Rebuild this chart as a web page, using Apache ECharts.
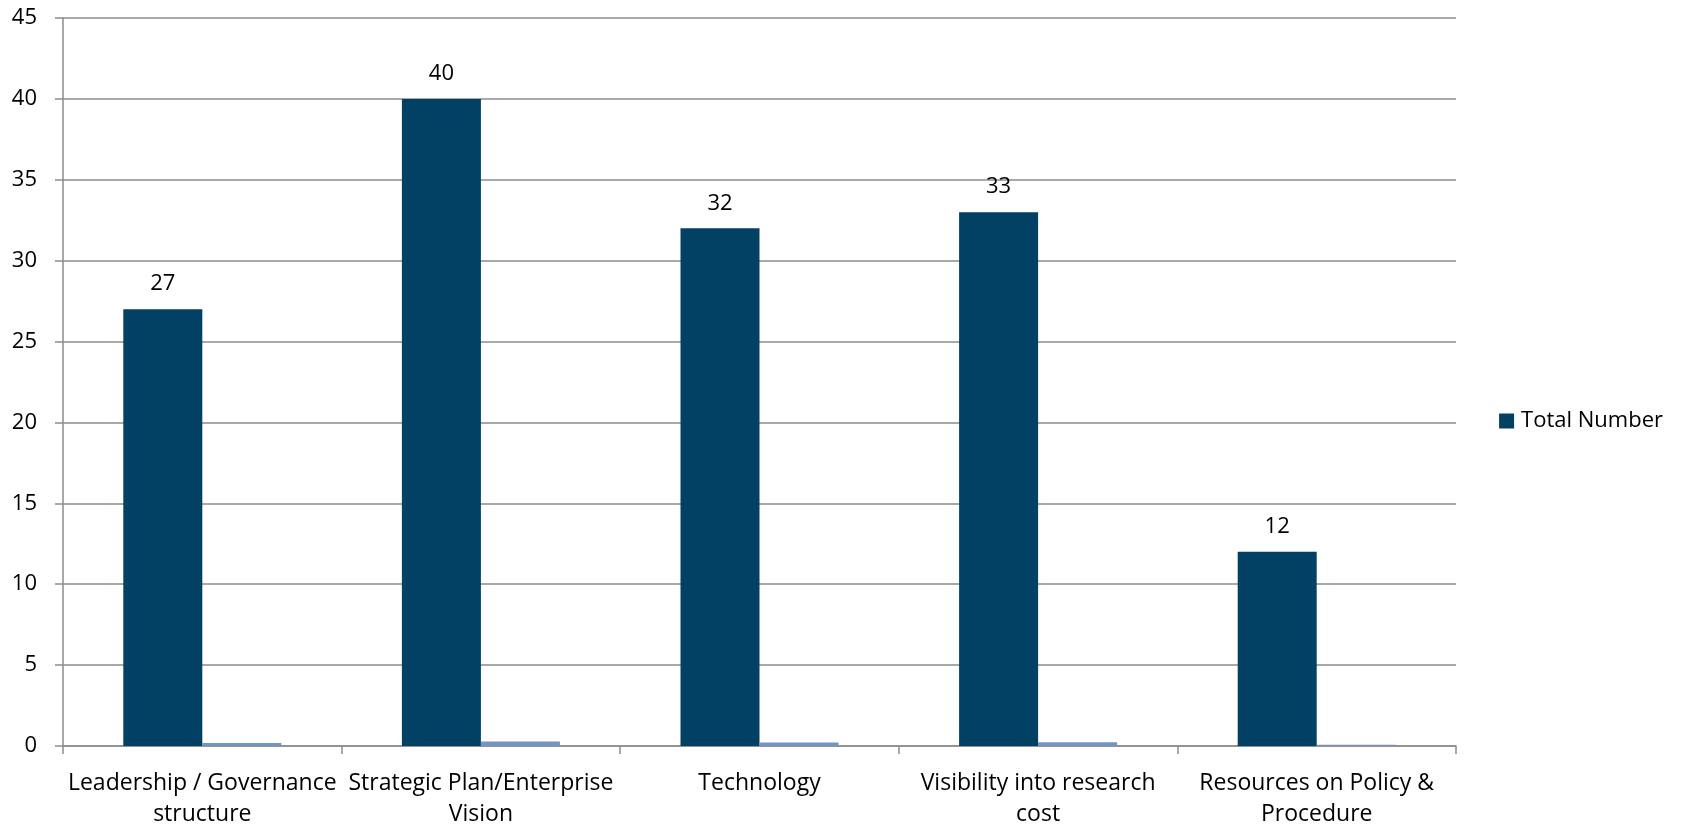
<!DOCTYPE html>
<html>
<head>
<meta charset="utf-8">
<script src="https://cdn.jsdelivr.net/npm/echarts@6/dist/echarts.min.js"></script>
<style>
  html, body { margin: 0; padding: 0; background: #fff; }
  #chart { width: 1682px; height: 825px; }
</style>
</head>
<body>
<div id="chart"></div>
<script>
// Survey categories (line breaks as shown under the axis)
const categories = [
  'Leadership / Governance\nstructure',
  'Strategic Plan/Enterprise\nVision',
  'Technology',
  'Visibility into research\ncost',
  'Resources on Policy &\nProcedure'
];
// Responses per category
const totalNumber = [27, 40, 32, 33, 12];
// Share of all responses (fraction)
const shareOfTotal = [0.19, 0.28, 0.22, 0.23, 0.08];
// Value axis ticks
const yMin = 0, yMax = 45, yStep = 5;

const FONT = '"Open Sans", "Noto Sans", sans-serif';
const FS = 22;
const chart = echarts.init(document.getElementById('chart'), null, { renderer: 'canvas' });

chart.setOption({
  animation: false,
  textStyle: { fontFamily: FONT },
  grid: {
    left: 63, right: 226, top: 18, bottom: 79,
    containLabel: false,
    outerBoundsMode: 'none'
  },
  legend: {
    data: ['Total Number'],
    right: 14,
    top: 405,
    itemWidth: 15,
    itemHeight: 15,
    itemGap: 6,
    icon: 'rect',
    textStyle: { fontFamily: FONT, fontSize: FS, color: '#000', padding: [0, 0, 0, 2] }
  },
  xAxis: {
    type: 'category',
    data: categories,
    axisLine: { lineStyle: { color: '#8c8c8c', width: 1.5 } },
    axisTick: { show: true, length: 8, lineStyle: { color: '#8c8c8c', width: 1.5 } },
    axisLabel: {
      interval: 0,
      margin: 22,
      fontFamily: FONT,
      fontSize: 23,
      color: '#000',
      lineHeight: 31
    }
  },
  yAxis: {
    type: 'value',
    min: yMin,
    max: yMax,
    interval: yStep,
    axisLine: { show: true, lineStyle: { color: '#8c8c8c', width: 1.5 } },
    axisTick: { show: true, length: 8, lineStyle: { color: '#8c8c8c', width: 1.5 } },
    axisLabel: { margin: 26, fontFamily: FONT, fontSize: FS, color: '#000' },
    splitLine: { show: true, lineStyle: { color: '#8c8c8c', width: 1.5 } }
  },
  series: [
    {
      name: 'Total Number',
      type: 'bar',
      data: totalNumber,
      barWidth: 79,
      barGap: '0%',
      itemStyle: { color: '#024163' },
      label: {
        show: true,
        position: 'top',
        distance: 14,
        fontFamily: FONT,
        fontSize: FS,
        color: '#000'
      }
    },
    {
      name: 'Share',
      type: 'bar',
      data: shareOfTotal,
      barWidth: 79,
      barGap: '0%',
      itemStyle: { color: '#7295c4' }
    }
  ]
});
</script>
</body>
</html>
